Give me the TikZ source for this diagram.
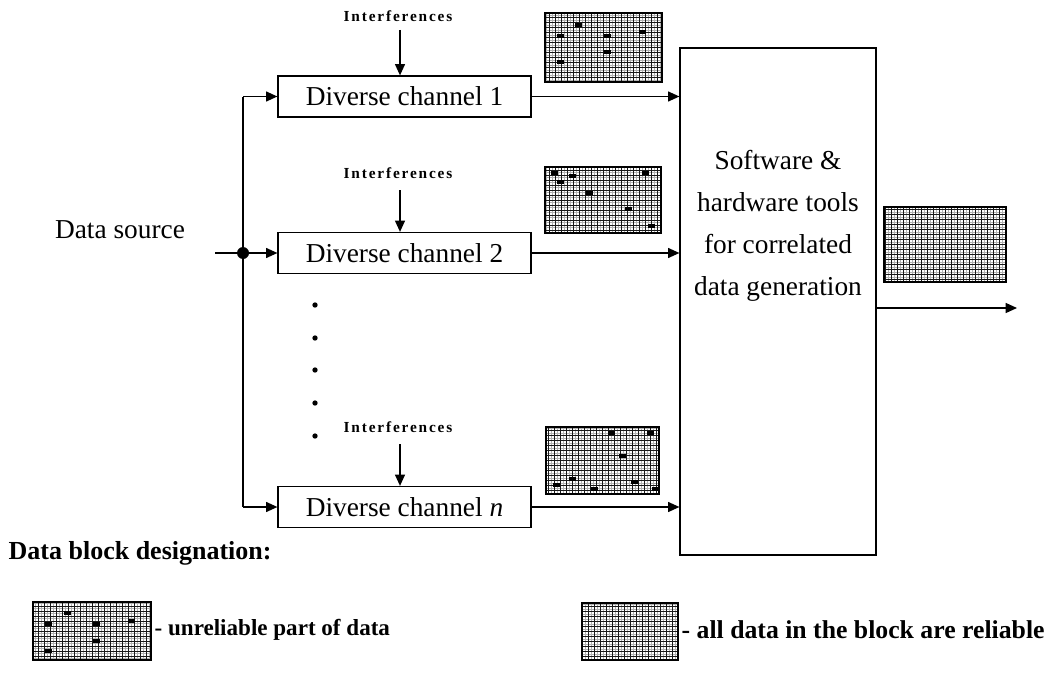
\documentclass[tikz,border=0pt]{standalone}
\usepackage{fontspec}
\setmainfont{Liberation Serif}
\newfontfamily\intfont[LetterSpace=12]{Liberation Serif}
\usetikzlibrary{arrows.meta,calc}

\tikzset{every picture/.style={line width=1pt}}
\tikzset{
  arr/.style={-{Triangle[length=8.5pt,width=7.5pt]}},
  channel/.style={draw, line width=0.9pt, minimum width=189.75pt, minimum height=30.75pt,
    inner sep=0pt, font=\fontsize{20.5}{24}\selectfont},
  intlabel/.style={inner sep=0pt, font=\intfont\bfseries\fontsize{11.5}{13}\selectfont},
  datablock/.style={draw, line width=1.3pt, inner sep=0pt, path picture={
    \draw[black!30, line width=0.5pt, xstep=2.25pt, ystep=1.875pt]
      (path picture bounding box.south west) grid (path picture bounding box.north east);
    \draw[black!90, line width=0.4pt, xstep=4.5pt, ystep=3.75pt]
      (path picture bounding box.south west) grid (path picture bounding box.north east);
  }},
}

\begin{document}
\begin{tikzpicture}[x=0.75pt,y=0.75pt,yscale=-1,xscale=1]
\useasboundingbox (0,0) rectangle (1063,674);

% Channels
\node [channel] (ch1) at (404.5,96.5) {Diverse channel 1};
\node [channel] (ch2) at (404.5,253) {Diverse channel 2};
\node [channel] (chn) at (404.5,507) {Diverse channel \textit{n}};

% Correlation block
\node [draw, line width=0.9pt, minimum width=147pt, minimum height=380.25pt] (sw) at (778,301.5) {};
\node [align=center, inner sep=0pt, font=\fontsize{20.5}{31.5}\selectfont] (swtext) at (778,226)
  {Software \&\\hardware tools\\for correlated\\data generation};

% Text Node
\node [intlabel] (int1) at (398,16) {Interferences};
\node [intlabel] (int2) at (398,173) {Interferences};
\node [intlabel] (int3) at (398,427) {Interferences};
% Text Node
\node [font=\fontsize{20.5}{24}\selectfont, inner sep=0pt] (src) at (120,230) {Data source};

% Interference arrows
\coordinate (i1) at (400,30);
\coordinate (i2) at (400,190);
\coordinate (i3) at (400,444);
\draw [arr] (i1) -- (i1 |- ch1.north);
\draw [arr] (i2) -- (i2 |- ch2.north);
\draw [arr] (i3) -- (i3 |- chn.north);

% Source bus
\coordinate (in) at (215,253);
\coordinate (bus) at (243,253);
\draw (in) -- (bus);
\draw (bus |- ch1.west) -- (bus |- chn.west);
\fill (bus) circle (4.5pt);
\draw [arr] (bus |- ch1.west) -- (ch1.west);
\draw [arr] (bus) -- (ch2.west);
\draw [arr] (bus |- chn.west) -- (chn.west);

% Channel outputs
\draw [arr] (ch1.east) -- (ch1.east -| sw.west);
\draw [arr] (ch2.east) -- (ch2.east -| sw.west);
\draw [arr] (chn.east) -- (chn.east -| sw.west);

% Output
\coordinate (out) at (1017,308);
\draw [arr] (sw.east |- out) -- (out);

% Dots
\foreach \y in {305,338,370,403,436}
  \fill (315,\y) circle (2pt);

% Data blocks
\node [datablock, minimum width=87.75pt, minimum height=51.75pt] (blk1) at (603.5,47.5) {};
\node [datablock, minimum width=87pt, minimum height=49.5pt] (blk2) at (603,200) {};
\node [datablock, minimum width=84.75pt, minimum height=50.25pt] (blk3) at (602.5,460.5) {};
\node [datablock, minimum width=91.5pt, minimum height=56.25pt] (blkout) at (945,244.5) {};
\node [datablock, minimum width=88.5pt, minimum height=43.5pt] (legbad) at (92,631) {};
\node [datablock, minimum width=72pt, minimum height=42.75pt] (leggood) at (630,631.5) {};

% Unreliable marks
\foreach \x/\y in {560/36,578/25,607/36,642/32,607/52,560/62,
                   554/173,572/176,560/182,589/193,645/173,628/209,651/226,
                   611/433,650/433,622/456,572/479,556/485,594/489,634/482,655/489,
                   67/613,48/624,96/624,131/621,96/641,48/651}
  \fill (\x-3.5,\y-2) rectangle ++(7,4);

% Legend
\node [anchor=west, inner sep=0pt, font=\bfseries\fontsize{19.5}{23}\selectfont] (legtitle) at (8,553) {Data block designation:};
\node [anchor=west, inner sep=0pt, font=\bfseries\fontsize{17.3}{21}\selectfont] (legbadtext) at (154,630) {- unreliable part of data};
\node [anchor=west, inner sep=0pt, font=\bfseries\fontsize{19.3}{23}\selectfont] (leggoodtext) at (681,630) {- all data in the block are reliable};

\end{tikzpicture}
\end{document}
